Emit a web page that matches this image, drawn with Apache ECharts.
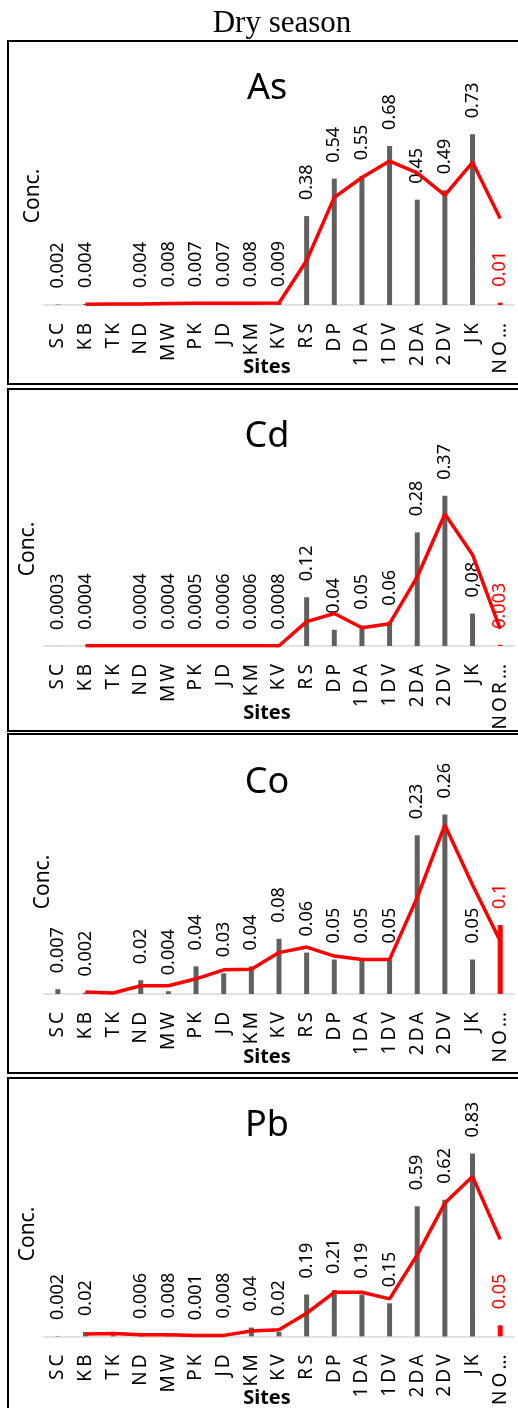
<!DOCTYPE html>
<html><head><meta charset="utf-8">
<script src="https://cdn.jsdelivr.net/npm/echarts@6/dist/echarts.min.js"></script>
<style>html,body{margin:0;padding:0;background:#fff}#c{width:518px;height:1408px}</style>
</head><body><div id="c"></div>
<script>
// ---- data ----
const sites = ['SC','KB','TK','ND','MW','PK','JD','KM','KV','RS','DP','1DA','1DV','2DA','2DV','JK','NO'];
const endTicks = ['NO…','NOR…','NO…','NO…'];
const metals = ['As','Cd','Co','Pb'];

const asVals   = [0.002,0.004,null,0.004,0.008,0.007,0.007,0.008,0.009,0.38,0.54,0.55,0.68,0.45,0.49,0.73,0.01];
const asLabels = ['0.002','0.004','','0.004','0.008','0.007','0.007','0.008','0.009','0.38','0.54','0.55','0.68','0.45','0.49','0.73','0.01'];
const asTrend  = [null,0.003,0.004,0.004,0.006,0.0075,0.007,0.0075,0.0085,0.19,0.46,0.545,0.615,0.565,0.47,0.61,0.37];

const cdVals   = [0.0003,0.0004,null,0.0004,0.0004,0.0005,0.0006,0.0006,0.0008,0.12,0.04,0.05,0.06,0.28,0.37,0.08,0.003];
const cdLabels = ['0.0003','0.0004','','0.0004','0.0004','0.0005','0.0006','0.0006','0.0008','0.12','0.04','0.05','0.06','0.28','0.37','0,08','0.003'];
const cdTrend  = [null,0.0004,0.0004,0.0004,0.0004,0.0005,0.0006,0.0006,0.0007,0.06,0.08,0.045,0.055,0.17,0.325,0.225,0.042];

const coVals   = [0.007,0.002,null,0.02,0.004,0.04,0.03,0.04,0.08,0.06,0.05,0.05,0.05,0.23,0.26,0.05,0.1];
const coLabels = ['0.007','0.002','','0.02','0.004','0.04','0.03','0.04','0.08','0.06','0.05','0.05','0.05','0.23','0.26','0.05','0.1'];
const coTrend  = [null,0.003,0.0015,0.012,0.012,0.022,0.035,0.036,0.06,0.068,0.055,0.05,0.05,0.14,0.245,0.158,0.077];

const pbVals   = [0.002,0.02,0.006,0.006,0.008,0.001,0.008,0.04,0.02,0.19,0.21,0.19,0.15,0.59,0.62,0.83,0.05];
const pbLabels = ['0.002','0.02','','0.006','0.008','0.001','0,008','0.04','0.02','0.19','0.21','0.19','0.15','0.59','0.62','0.83','0.05'];
const pbTrend  = [null,0.011,0.013,0.007,0.007,0.0045,0.0045,0.024,0.03,0.105,0.2,0.2,0.17,0.37,0.605,0.725,0.44];

const valsAll = [asVals, cdVals, coVals, pbVals];
const labelsAll = [asLabels, cdLabels, coLabels, pbLabels];
const trendAll = [asTrend, cdTrend, coTrend, pbTrend];
const yMaxAll = [1.0, 0.5, 0.3, 1.0];

// ---- layout ----
const FONT = "'Noto Sans', 'Open Sans', sans-serif";
const panels = [
  {box:[8,41,343],  top:71,   h:234, title:89,   conc:[33,196],  sitesY:367},
  {box:[8,389,342], top:443,  h:203, title:437,  conc:[28,549],  sitesY:713},
  {box:[8,734,339], top:787,  h:207, title:783,  conc:[43,882],  sitesY:1057},
  {box:[8,1078,345],top:1116, h:222, title:1126, conc:[28,1234], sitesY:1398}
];

const grid = [], xAxis = [], yAxis = [], series = [], graphic = [];
graphic.push({type:'text', x:282, y:24, style:{text:'Dry season', font:"31px 'Liberation Serif', serif", fill:'#000', textAlign:'center', textVerticalAlign:'middle'}});

panels.forEach((p, i) => {
  grid.push({left:44, right:4, top:p.top, height:p.h});
  const ticks = sites.slice(0, 16).concat([endTicks[i]]);
  xAxis.push({
    type:'category', gridIndex:i, data:ticks, boundaryGap:true,
    axisLine:{show:true, lineStyle:{color:'#d9d9d9', width:1.5}},
    axisTick:{show:false},
    axisLabel:{interval:0, rotate:90, margin:18, fontSize:19, fontFamily:FONT, color:'#000',
      formatter: v => v.split('').join('\u2009')}
  });
  yAxis.push({type:'value', gridIndex:i, min:0, max:yMaxAll[i], show:false, splitLine:{show:false}});
  const vals = valsAll[i], labs = labelsAll[i];
  series.push({
    type:'bar', xAxisIndex:i, yAxisIndex:i, barWidth:5, z:2,
    itemStyle:{color:'#606060'},
    label:{show:true, position:'top', rotate:90, align:'left', verticalAlign:'middle', distance:16,
      fontSize:18, fontFamily:FONT, color:'#000', formatter: q => labs[q.dataIndex]},
    data: vals.map((v, k) => k === vals.length - 1
      ? {value:v, itemStyle:{color:'#ff0000', borderColor:'#ff0000', borderWidth:1}, label:{color:'#ff0000'}}
      : v)
  });
  series.push({
    type:'line', xAxisIndex:i, yAxisIndex:i, z:3, symbol:'none', connectNulls:true,
    lineStyle:{color:'#ff0000', width:3.5}, data: trendAll[i]
  });
  graphic.push({type:'rect', shape:{x:p.box[0], y:p.box[1], width:530, height:p.box[2]}, style:{fill:'none', stroke:'#000', lineWidth:2}});
  graphic.push({type:'text', x:267, y:p.title, style:{text:metals[i], font:"36px "+FONT, fill:'#000', textAlign:'center', textVerticalAlign:'middle'}});
  graphic.push({type:'text', x:p.conc[0], y:p.conc[1], rotation:Math.PI/2, style:{text:'Conc.', font:"21px "+FONT, fill:'#000', textAlign:'center', textVerticalAlign:'middle'}});
  graphic.push({type:'text', x:267, y:p.sitesY, style:{text:'Sites', font:"bold 20px "+FONT, fill:'#000', textAlign:'center', textVerticalAlign:'middle'}});
});

const chart = echarts.init(document.getElementById('c'), null, {renderer:'canvas'});
chart.setOption({animation:false, backgroundColor:'#fff', grid, xAxis, yAxis, series, graphic});
</script></body></html>
